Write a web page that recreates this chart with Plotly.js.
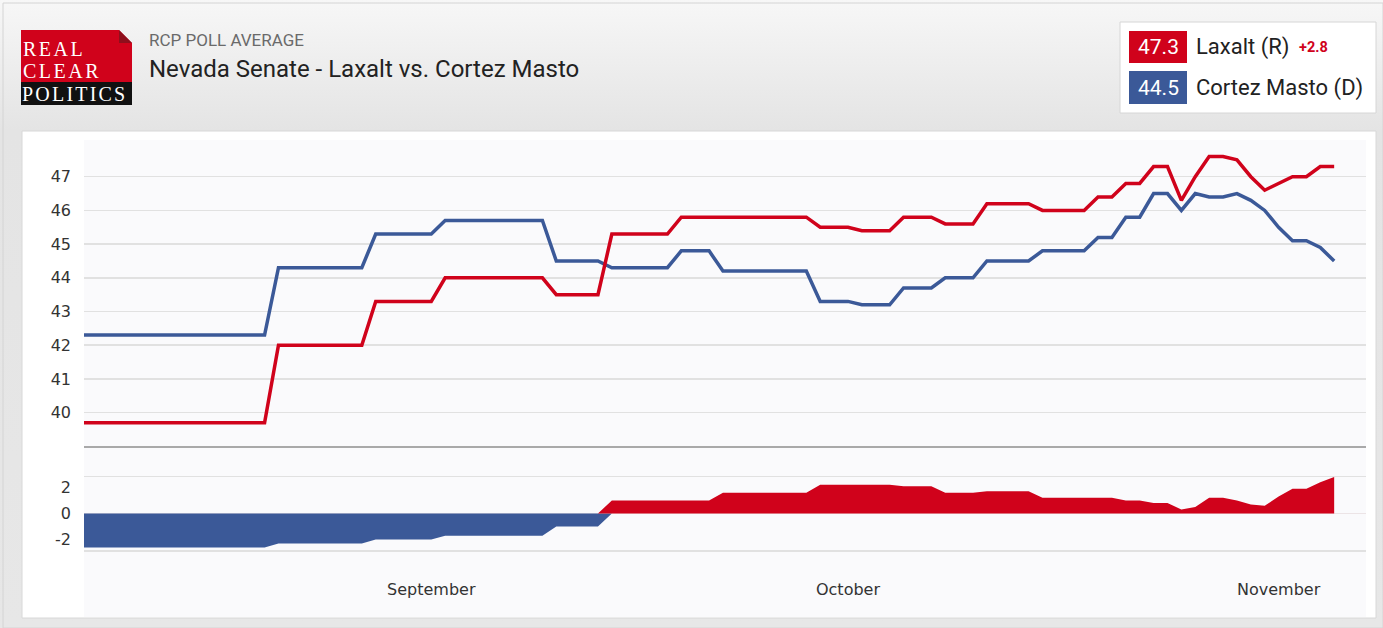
<!DOCTYPE html>
<html><head><meta charset="utf-8">
<script src="https://cdn.plot.ly/plotly-3.0.1.min.js"></script>
<style>
html,body{margin:0;padding:0;background:#fff;overflow:hidden;}
#chart{width:1383px;height:628px;background:linear-gradient(to bottom,#f7f7f7 0px,#e4e4e4 130px,#e7e7e7 628px);}
</style></head><body><div id="chart"></div>
<script>
// ---- data (RCP poll average, one value per day starting 2022-08-07) ----
const startDate = [2022, 7, 7];
const laxalt = [
  39.7,39.7,39.7,39.7,39.7,39.7,39.7,39.7,39.7,39.7,39.7,39.7,39.7,39.7,
  42.0,42.0,42.0,42.0,42.0,42.0,42.0,
  43.3,43.3,43.3,43.3,43.3,
  44.0,44.0,44.0,44.0,44.0,44.0,44.0,44.0,
  43.5,43.5,43.5,43.5,
  45.3,45.3,45.3,45.3,45.3,
  45.8,45.8,45.8,45.8,45.8,45.8,45.8,45.8,45.8,45.8,
  45.5,45.5,45.5,
  45.4,45.4,45.4,
  45.8,45.8,45.8,
  45.6,45.6,45.6,
  46.2,46.2,46.2,46.2,
  46.0,46.0,46.0,46.0,
  46.4,46.4,
  46.8,46.8,
  47.3,47.3,
  46.3,47.0,47.6,47.6,47.5,47.0,46.6,46.8,47.0,47.0,47.3,47.3
];
const cortezMasto = [
  42.3,42.3,42.3,42.3,42.3,42.3,42.3,42.3,42.3,42.3,42.3,42.3,42.3,42.3,
  44.3,44.3,44.3,44.3,44.3,44.3,44.3,
  45.3,45.3,45.3,45.3,45.3,
  45.7,45.7,45.7,45.7,45.7,45.7,45.7,45.7,
  44.5,44.5,44.5,44.5,
  44.3,44.3,44.3,44.3,44.3,
  44.8,44.8,44.8,
  44.2,44.2,44.2,44.2,44.2,44.2,44.2,
  43.3,43.3,43.3,
  43.2,43.2,43.2,
  43.7,43.7,43.7,
  44.0,44.0,44.0,
  44.5,44.5,44.5,44.5,
  44.8,44.8,44.8,44.8,
  45.2,45.2,
  45.8,45.8,
  46.5,46.5,
  46.0,46.5,46.4,46.4,46.5,46.3,46.0,45.5,45.1,45.1,44.9,44.5
];
const monthTicks = ['2022-09-01','2022-10-01','2022-11-01'];
const monthLabels = ['September','October','November'];
const topTicks = [40,41,42,43,44,45,46,47];
const spreadTicks = [-2,0,2];
const candidates = ['Laxalt (R)','Cortez Masto (D)'];
const latest = ['47.3','44.5'];
const leadLabel = '+2.8';
const kicker = 'RCP POLL AVERAGE';
const headline = 'Nevada Senate - Laxalt vs. Cortez Masto';
const logoWords = ['REAL','CLEAR','POLITICS'];

// ---- derived ----
const dates = laxalt.map((_, i) => new Date(Date.UTC(startDate[0], startDate[1], startDate[2] + i)).toISOString().slice(0, 10));
const spread = laxalt.map((v, i) => Math.round((v - cortezMasto[i]) * 10) / 10);
const spreadPos = spread.map(v => Math.max(v, 0));
const spreadNeg = spread.map(v => Math.min(v, 0));

const RED = 'rgb(208,2,27)';
const BLUE = 'rgb(59,89,152)';
const W = 1383, H = 628;
const px = x => x / W;
const py = y => 1 - y / H;
const xRange = ['2022-08-07', '2022-11-07 07:00'];
const xDomain = [px(84), px(1366)];

const traces = [
  {x: dates, y: cortezMasto, xaxis: 'x', yaxis: 'y', mode: 'lines', line: {color: BLUE, width: 3.5}, hoverinfo: 'skip'},
  {x: dates, y: laxalt, xaxis: 'x', yaxis: 'y', mode: 'lines', line: {color: RED, width: 3.5}, hoverinfo: 'skip'},
  {x: dates, y: spreadNeg, xaxis: 'x2', yaxis: 'y2', mode: 'lines', fill: 'tozeroy', fillcolor: BLUE, line: {width: 0, color: BLUE}, hoverinfo: 'skip'},
  {x: dates, y: spreadPos, xaxis: 'x2', yaxis: 'y2', mode: 'lines', fill: 'tozeroy', fillcolor: RED, line: {width: 0, color: RED}, hoverinfo: 'skip'}
];

const rect = (x0, y0, x1, y1, fill, line, layer) => ({type: 'rect', xref: 'paper', yref: 'paper', x0: px(x0), x1: px(x1), y0: py(y1), y1: py(y0), fillcolor: fill, line: line || {width: 0}, layer: layer || 'below'});
const pathShape = (pts, fill, layer) => ({type: 'path', xref: 'paper', yref: 'paper', path: 'M' + pts.map(p => px(p[0]) + ',' + py(p[1])).join(' L') + ' Z', fillcolor: fill, line: {width: 0}, layer: layer || 'below'});

const shapes = [
  rect(3, 3, 1383, 628, 'rgba(0,0,0,0)', {color: '#d4d4d4', width: 1}),
  rect(22, 131, 1376, 618, '#ffffff', {color: '#d8d8d8', width: 1}),
  rect(84, 140, 1366, 617, '#fafafc'),
  // logo
  pathShape([[21,30],[119,30],[132,43],[132,82],[21,82]], '#d0021b'),
  pathShape([[119,30],[119,43],[132,43]], '#8e0f1c'),
  rect(21, 82, 132, 105, '#111111'),
  // legend box and badges
  rect(1120, 22, 1376, 113, '#ffffff', {color: '#d6d6d6', width: 1}),
  rect(1129, 31, 1187, 63, '#d0021b'),
  rect(1129, 71, 1187, 104, '#3b5998'),
  // separator between panels
  {type: 'line', xref: 'paper', yref: 'paper', x0: px(84), x1: px(1366), y0: py(447), y1: py(447), line: {color: '#a9a9a9', width: 2}, layer: 'above'}
];

const ann = (text, x, y, size, color, family, anchor, extra) => Object.assign({
  text: text, xref: 'paper', yref: 'paper', x: px(x), y: py(y), xanchor: anchor || 'left', yanchor: 'middle',
  showarrow: false, font: {size: size, color: color, family: family}, borderpad: 0
}, extra || {});

const SERIF = 'Liberation Serif, serif';
const SANS = 'Roboto, sans-serif';
const spaced = (t, s) => '<span style="letter-spacing:' + s + 'px">' + t + '</span>';
const annotations = [
  ann(spaced(logoWords[0], 2.5), 22, 49, 20, '#ffffff', SERIF),
  ann(spaced(logoWords[1], 2.5), 22, 71, 20, '#ffffff', SERIF),
  ann(spaced(logoWords[2], 2.2), 21, 94, 20, '#ffffff', SERIF),
  ann(kicker, 148, 40, 17, '#6a6a6a', SANS),
  ann(headline, 148, 69, 24, '#222222', SANS),
  ann(latest[0], 1158, 47, 21, '#ffffff', SANS, 'center'),
  ann(latest[1], 1158, 88, 21, '#ffffff', SANS, 'center'),
  ann(candidates[0], 1195, 47, 22, '#222222', SANS),
  ann('<b>' + leadLabel + '</b>', 1298, 48, 14.5, RED, SANS),
  ann(candidates[1], 1195, 88, 22, '#222222', SANS)
];

const tickFont = {family: 'DejaVu Sans, sans-serif', size: 16, color: '#333333'};
const layout = {
  width: W, height: H,
  margin: {l: 0, r: 0, t: 0, b: 0, pad: 0},
  paper_bgcolor: 'rgba(0,0,0,0)', plot_bgcolor: 'rgba(0,0,0,0)',
  showlegend: false, hovermode: false,
  xaxis: {domain: xDomain, anchor: 'y', type: 'date', range: xRange, showticklabels: false, showgrid: false, zeroline: false, ticks: '', fixedrange: true},
  yaxis: {domain: [py(447), py(140)], anchor: 'x', range: [38.98, 48.09], tickvals: topTicks, ticktext: topTicks.map(String),
          showgrid: true, gridcolor: '#e1e1e1', gridwidth: 1.5, zeroline: false, ticks: '', ticklabelstandoff: 12,
          tickfont: tickFont, fixedrange: true},
  xaxis2: {domain: xDomain, anchor: 'y2', type: 'date', range: xRange, tickvals: monthTicks, ticktext: monthLabels,
           showgrid: false, zeroline: false, ticks: 'outside', ticklen: 24, tickcolor: 'rgba(0,0,0,0)',
           showline: true, mirror: true, linecolor: '#e1e1e1', linewidth: 1.5, tickfont: tickFont, fixedrange: true},
  yaxis2: {domain: [py(550), py(477)], anchor: 'x2', range: [-2.8, 2.8], tickvals: spreadTicks, ticktext: spreadTicks.map(String),
           showgrid: false, zeroline: true, zerolinecolor: '#ece4e6', zerolinewidth: 1, ticks: '', ticklabelstandoff: 12,
           tickfont: tickFont, fixedrange: true},
  shapes: shapes,
  annotations: annotations
};

Plotly.newPlot('chart', traces, layout, {staticPlot: true, displayModeBar: false});
</script>
</body></html>
